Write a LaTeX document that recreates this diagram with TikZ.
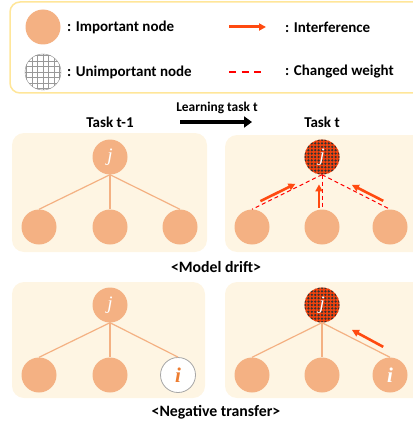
\documentclass[tikz,border=0pt]{standalone}
\usepackage{fontspec}
\setmainfont{Carlito}
\newfontfamily\varfont{Liberation Serif}
\usetikzlibrary{positioning, arrows.meta, calc}

\definecolor{nodeorange}{HTML}{F4B183}
\definecolor{letterorange}{HTML}{ED7D31}
\definecolor{panelfill}{HTML}{FEF5E3}
\definecolor{legendline}{HTML}{FFE699}
\definecolor{intfred}{HTML}{FF4A10}
\definecolor{driftred}{HTML}{F0420E}
\definecolor{driftdot}{HTML}{333333}

\begin{document}
\begin{tikzpicture}[
    x=1pt, y=-1pt,
    >=Stealth,
    font=\bfseries\fontsize{15}{17}\selectfont,
    imp/.style={
        circle, fill=nodeorange, minimum size=35pt, inner sep=0pt,
        text=white, font=\varfont\itshape\fontsize{19}{19}\selectfont,
    },
    unimp/.style={
        circle, draw=black!35, thick, fill=white, minimum size=35pt, inner sep=0pt,
        text=letterorange, font=\varfont\bfseries\itshape\fontsize{21}{21}\selectfont,
    },
    drift/.style={
        imp, fill=driftred,
        path picture={
            \foreach \u in {-6,...,6}
                \foreach \v in {-6,...,6}
                    \fill[driftdot] ($(path picture bounding box.center)+(\u*3.4,\v*3.4)$) circle (1.25pt);
        },
    },
    gridnode/.style={
        circle, draw=black!45, fill=white, minimum size=36pt, inner sep=0pt,
        path picture={
            \foreach \u in {-3,...,3} {
                \draw[black!40, thin] ($(path picture bounding box.center)+(\u*5.5,-20)$) -- ++(0,40);
                \draw[black!40, thin] ($(path picture bounding box.center)+(-20,\u*5.5)$) -- ++(40,0);
            }
        },
    },
    panel/.style={fill=panelfill, rounded corners=12pt},
    wire/.style={draw=nodeorange, line width=1.2pt},
    changed/.style={draw=red, line width=1pt, dash pattern=on 4pt off 3pt},
    intf/.style={-{Triangle[length=7pt,width=7pt]}, draw=intfred, fill=intfred, line width=2.6pt},
    lbl/.style={anchor=west, inner sep=0pt, font=\bfseries\fontsize{15}{17}\selectfont},
    caption/.style={font=\bfseries\fontsize{15.8}{18}\selectfont},
]
\useasboundingbox (0,0) rectangle (412,425);

\def\colL{110}
\def\colR{322}
\def\gap{70}

% legend
\draw[legendline, line width=1.5pt, fill=white, rounded corners=10pt] (10,2) rectangle (430,93);
\node[imp] (key1) at (43,27) {};
\node[lbl] (txt1) at (67,27) {: Important node};
\node[gridnode] (key2) at (43,72) {};
\node[lbl] (txt2) at (67,72) {: Unimportant node};
\coordinate (a1) at (229,27);
\coordinate (a2) at (266,27);
\draw[intf, line width=3pt] (a1) -- (a2);
\node[lbl] (txt3) at (285,27) {: Interference};
\coordinate (d1) at (229,72);
\coordinate (d2) at (266,72);
\draw[red, line width=2pt, dash pattern=on 7pt off 5.5pt] (d1) -- (d2);
\node[lbl] (txt4) at (285,72) {: Changed weight};

% header
\node[font=\bfseries\fontsize{13.4}{15}\selectfont] (learn) at (217,108) {Learning task t};
\coordinate (s1) at (180,122);
\coordinate (s2) at (252,122);
\draw[-{Triangle[length=8pt,width=11pt]}, line width=4.5pt] (s1) -- (s2);
\node (old) at (\colL,122) {Task t-1};
\node (new) at (\colR,122) {Task t};

% panels
\fill[panel] (12,133) rectangle (207,252);
\fill[panel] (225,135) rectangle (430,252);
\fill[panel] (12,282) rectangle (205,398);
\fill[panel] (225,282) rectangle (430,398);

% model drift
\node[imp] (j1) at (\colL,157) {j};
\node[imp] (b1) at (\colL-71,227) {};
\node[imp] (b2) at (\colL,227) {};
\node[imp] (b3) at (\colL+70,227) {};
\foreach \b in {b1, b2, b3}
    \draw[wire] (j1.south) -- (\b.north);

\node[drift] (j2) at (\colR,157) {j};
\node[imp] (b4) at (\colR-\gap,227) {};
\node[imp] (b5) at (\colR,227) {};
\node[imp] (b6) at (\colR+\gap-2,227) {};
\foreach \b in {b4, b5, b6}
    \draw[changed] (j2.south) -- (\b.north);

\draw[intf] ($(b4.north)!.12!(j2.south)+(0,-4)$) -- ($(b4.north)!.62!(j2.south)+(0,-4)$);
\draw[intf] ($(b5.north)!.05!(j2.south)+(-3,0)$) -- ($(b5.north)!.72!(j2.south)+(-3,0)$);
\draw[intf] ($(b6.north)!.10!(j2.south)+(0,-5)$) -- ($(b6.north)!.56!(j2.south)+(0,-5)$);

\node[caption] (cap1) at (216,267) {<Model drift>};

% negative transfer
\node[imp] (j3) at (\colL,305) {j};
\node[imp] (b7) at (\colL-71,375) {};
\node[imp] (b8) at (\colL,375) {};
\node[unimp] (b9) at (\colL+68,375) {i};
\foreach \b in {b7, b8, b9}
    \draw[wire] (j3.south) -- (\b.north);

\node[drift] (j4) at (\colR,305) {j};
\node[imp] (b10) at (\colR-\gap,375) {};
\node[imp] (b11) at (\colR,375) {};
\node[imp, font=\varfont\bfseries\itshape\fontsize{21}{21}\selectfont] (b12) at (\colR+\gap-2,375) {i};
\foreach \b in {b10, b11, b12}
    \draw[wire] (j4.south) -- (\b.north);

\draw[intf] ($(b12.north)!.10!(j4.south)+(0,-7)$) -- ($(b12.north)!.56!(j4.south)+(0,-8)$);

\node[caption] (cap2) at (216,412) {<Negative transfer>};

\end{tikzpicture}
\end{document}
